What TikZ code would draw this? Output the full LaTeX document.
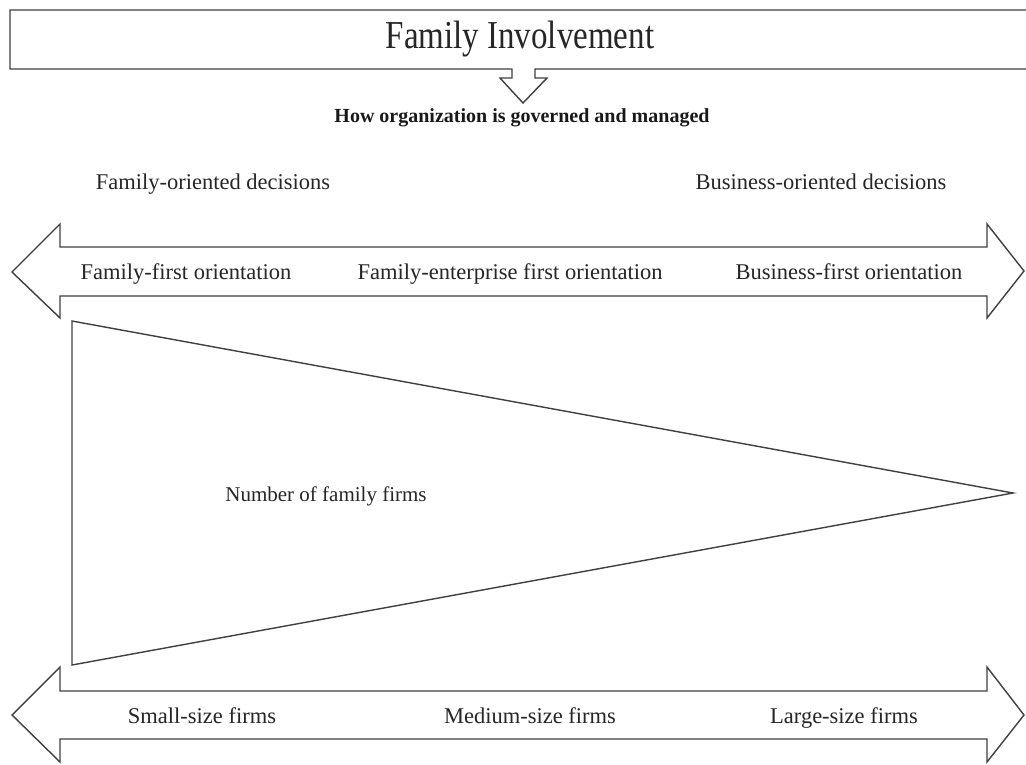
\documentclass[tikz,border=0pt]{standalone}
\usepackage{fontspec}
\setmainfont{Liberation Serif}
\begin{document}
\begin{tikzpicture}[x=1pt,y=-1pt,
  shape line/.style={draw=black!75, line width=1.4pt, line join=miter, fill=white},
  lbl/.style={inner sep=0pt, text height=0.68em, text depth=0.22em, font=\fontsize{22.5}{26}\selectfont, text=black!85},
  numlbl/.style={lbl, font=\fontsize{21}{24}\selectfont},
  boldlbl/.style={inner sep=0pt, text height=0.68em, text depth=0.22em, font=\fontsize{20}{23}\selectfont\bfseries, text=black!90},
  titlelbl/.style={inner sep=0pt, font=\fontsize{33}{38}\selectfont, text=black!85}]
\useasboundingbox (0,0) rectangle (1026,764);
% top box with down arrow
\draw[shape line] (1030,10) -- (10,10) -- (10,69) -- (512,69) -- (512,78) -- (500,78) -- (523,103) -- (547,78) -- (535,78) -- (535,69) -- (1030,69);
\node[titlelbl] (title) at (520,39) {\scalebox{1}[1.2]{Family Involvement}};
\node[boldlbl] (how) at (522,120) {How organization is governed and managed};
\node[lbl] (fod) at (213,187) {Family-oriented decisions};
\node[lbl] (bod) at (821,187) {Business-oriented decisions};
% upper double arrow
\draw[shape line] (12,272) -- (60,224) -- (60,247) -- (987,247) -- (987,224) -- (1024,271) -- (987,318) -- (987,296) -- (60,296) -- (60,318) -- cycle;
\node[lbl] (ffo) at (186,277) {Family-first orientation};
\node[lbl] (feo) at (510,277) {Family-enterprise first orientation};
\node[lbl] (bfo) at (849,277) {Business-first orientation};
% triangle
\draw[shape line] (72,321) -- (1013,493) -- (72,665) -- cycle;
\node[numlbl] (num) at (326,499) {Number of family firms};
% lower double arrow
\draw[shape line] (12,715) -- (60,667) -- (60,691) -- (987,691) -- (987,667) -- (1024,715) -- (987,762) -- (987,739) -- (60,739) -- (60,762) -- cycle;
\node[lbl] (small) at (202,721) {Small-size firms};
\node[lbl] (medium) at (530,721) {Medium-size firms};
\node[lbl] (large) at (844,721) {Large-size firms};
\end{tikzpicture}
\end{document}
